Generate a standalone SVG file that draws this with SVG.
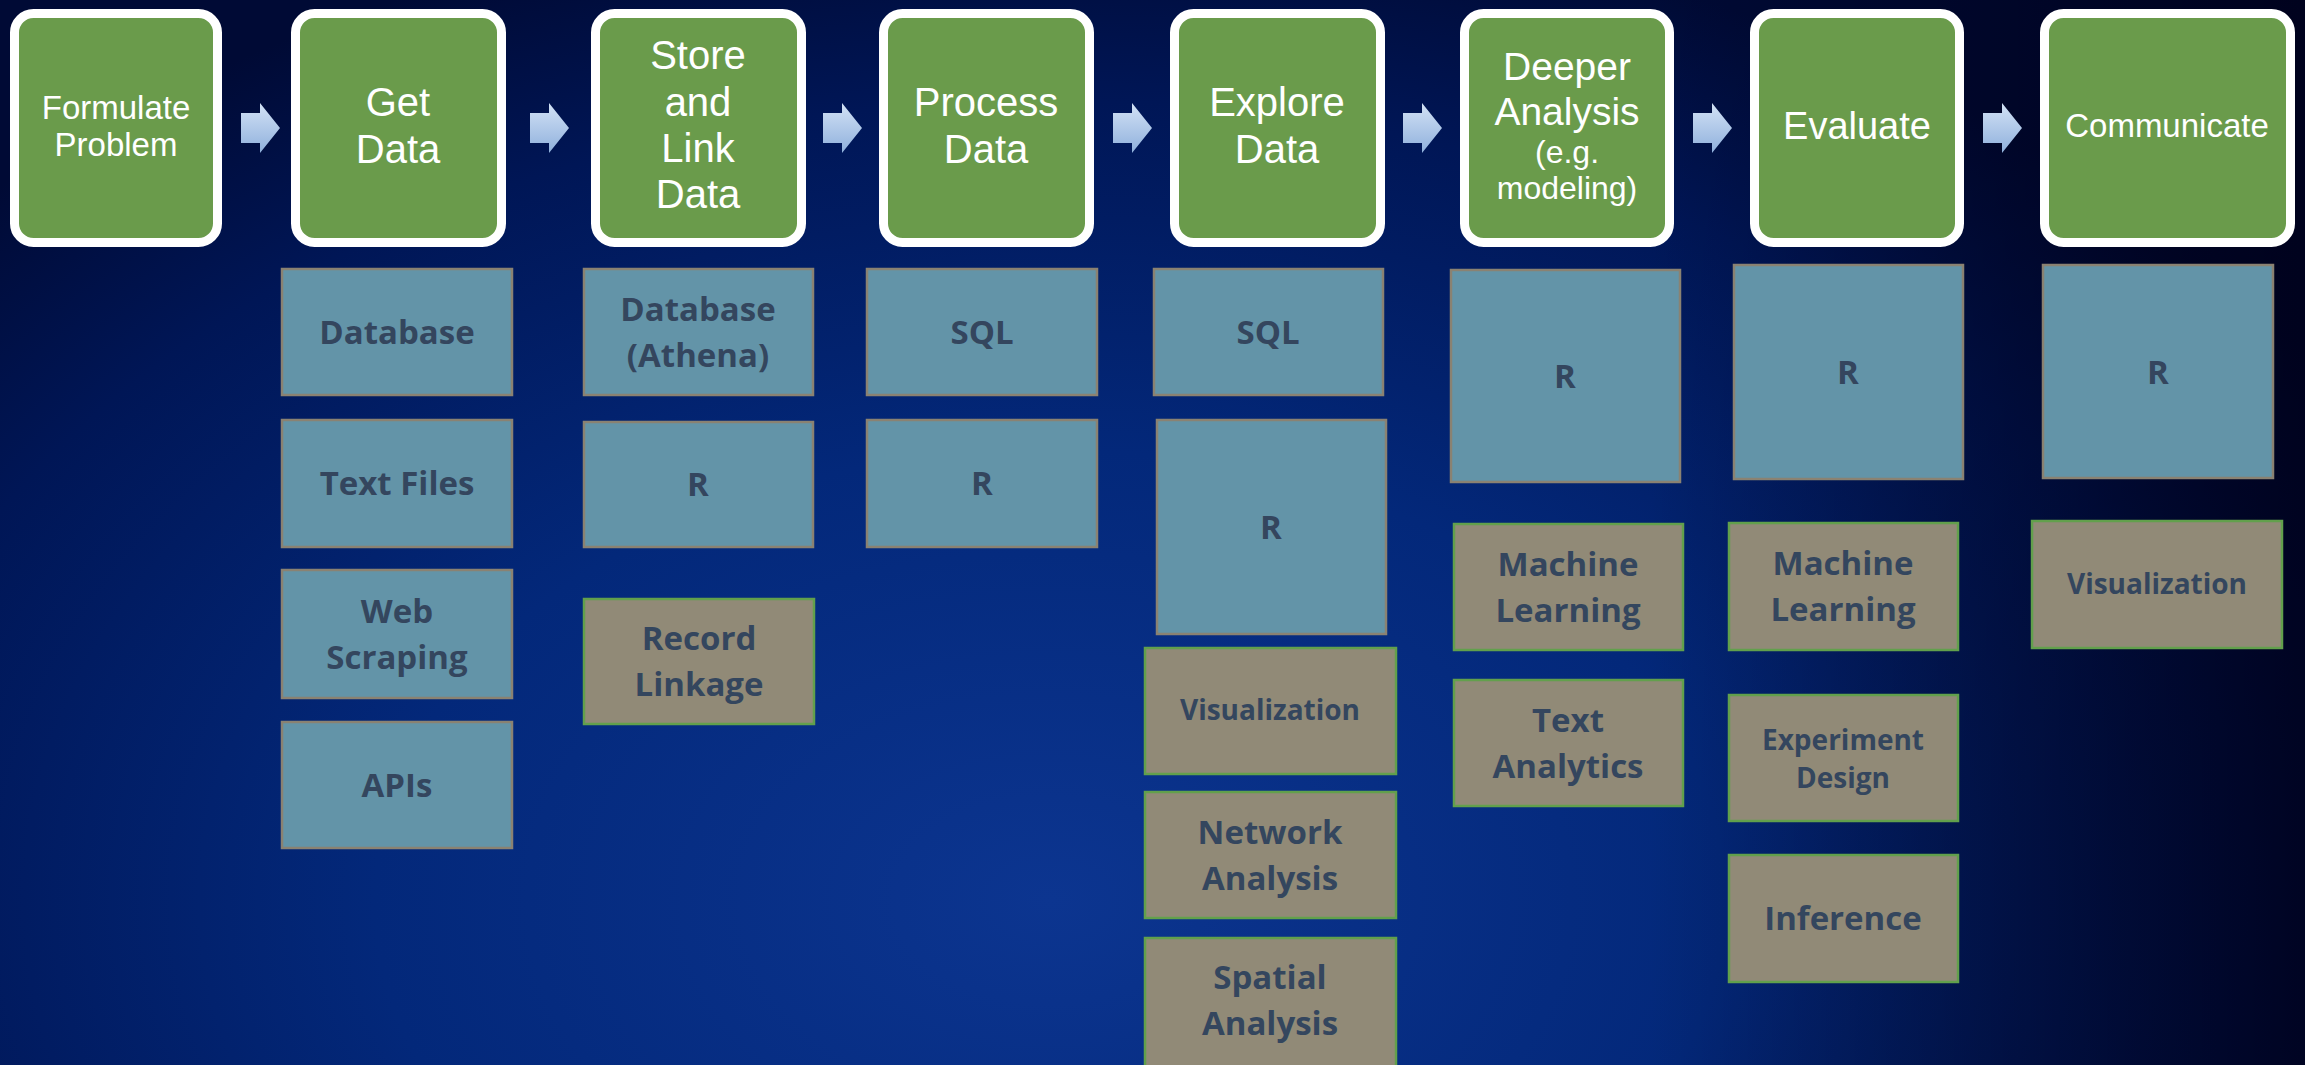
<svg xmlns="http://www.w3.org/2000/svg" width="2305" height="1065" viewBox="0 0 2305 1065">
  <defs>
    <radialGradient id="bg" cx="0" cy="0" r="1" gradientUnits="userSpaceOnUse" gradientTransform="translate(1050 900) scale(1500 1000)">
      <stop offset="0" stop-color="#0c3590"/>
      <stop offset="0.45" stop-color="#03287a"/>
      <stop offset="0.8" stop-color="#001656"/>
      <stop offset="1" stop-color="#000a35"/>
    </radialGradient>
    <linearGradient id="rightShade" x1="1650" y1="0" x2="2305" y2="0" gradientUnits="userSpaceOnUse">
      <stop offset="0" stop-color="#000018" stop-opacity="0"/>
      <stop offset="1" stop-color="#000018" stop-opacity="0.8"/>
    </linearGradient>
    <linearGradient id="arrowFill" x1="0" y1="0" x2="0" y2="1">
      <stop offset="0" stop-color="#d3e2f5"/>
      <stop offset="1" stop-color="#8fb0dc"/>
    </linearGradient>
    <style>
      .step rect { fill: #6a9b4b; stroke: #ffffff; stroke-width: 9; }
      .step text { fill: #ffffff; font-family: "Liberation Sans", Arial, sans-serif; text-anchor: middle; }
      .tool rect { fill: #6394a8; stroke: #8a8272; stroke-width: 2.5; }
      .method rect { fill: #918a77; stroke: #62a04c; stroke-width: 2.5; }
      .tool text, .method text { fill: #34465e; font-family: "Open Sans", "Noto Sans", sans-serif; font-weight: 700; font-size: 33px; text-anchor: middle; }
      .small { font-size: 28px !important; }
      .arrow { fill: url(#arrowFill); }
    </style>
  </defs>

  <rect width="2305" height="1065" fill="url(#bg)"/>
  <rect width="2305" height="1065" fill="url(#rightShade)"/>

  <!-- process steps -->
  <g id="step-formulate" class="step">
    <rect x="14.5" y="13.5" width="203" height="229" rx="19"/>
    <text font-size="33"><tspan x="116" y="119">Formulate</tspan><tspan x="116" y="156">Problem</tspan></text>
  </g>
  <g id="step-get" class="step">
    <rect x="295.5" y="13.5" width="206" height="229" rx="19"/>
    <text font-size="40"><tspan x="398" y="116">Get</tspan><tspan x="398" y="163">Data</tspan></text>
  </g>
  <g id="step-store" class="step">
    <rect x="595.5" y="13.5" width="206" height="229" rx="19"/>
    <text font-size="40"><tspan x="698" y="69">Store</tspan><tspan x="698" y="116">and</tspan><tspan x="698" y="162">Link</tspan><tspan x="698" y="208">Data</tspan></text>
  </g>
  <g id="step-process" class="step">
    <rect x="883.5" y="13.5" width="206" height="229" rx="19"/>
    <text font-size="40"><tspan x="986" y="116">Process</tspan><tspan x="986" y="163">Data</tspan></text>
  </g>
  <g id="step-explore" class="step">
    <rect x="1174.5" y="13.5" width="206" height="229" rx="19"/>
    <text font-size="40"><tspan x="1277" y="116">Explore</tspan><tspan x="1277" y="163">Data</tspan></text>
  </g>
  <g id="step-deeper" class="step">
    <rect x="1464.5" y="13.5" width="205" height="229" rx="19"/>
    <text font-size="39"><tspan x="1567" y="80">Deeper</tspan><tspan x="1567" y="125">Analysis</tspan><tspan x="1567" y="163" font-size="32">(e.g.</tspan><tspan x="1567" y="199" font-size="32">modeling)</tspan></text>
  </g>
  <g id="step-evaluate" class="step">
    <rect x="1754.5" y="13.5" width="205" height="229" rx="19"/>
    <text x="1857" y="139" font-size="38">Evaluate</text>
  </g>
  <g id="step-communicate" class="step">
    <rect x="2044.5" y="13.5" width="246" height="229" rx="19"/>
    <text x="2167" y="137" font-size="33">Communicate</text>
  </g>

  <!-- tools and methods under each step -->
  <g id="get-database" class="tool"><rect x="282" y="269" width="230" height="126"/><text x="397" y="344">Database</text></g>
  <g id="get-textfiles" class="tool"><rect x="282" y="420" width="230" height="127"/><text x="397" y="495">Text Files</text></g>
  <g id="get-webscraping" class="tool"><rect x="282" y="570" width="230" height="128"/><text><tspan x="397" y="623">Web</tspan><tspan x="397" y="669">Scraping</tspan></text></g>
  <g id="get-apis" class="tool"><rect x="282" y="722" width="230" height="126"/><text x="397" y="797">APIs</text></g>

  <g id="store-athena" class="tool"><rect x="584" y="269" width="229" height="126"/><text><tspan x="698" y="321">Database</tspan><tspan x="698" y="367">(Athena)</tspan></text></g>
  <g id="store-r" class="tool"><rect x="584" y="422" width="229" height="125"/><text x="698" y="496">R</text></g>
  <g id="store-linkage" class="method"><rect x="584" y="599" width="230" height="125"/><text><tspan x="699" y="650">Record</tspan><tspan x="699" y="696">Linkage</tspan></text></g>

  <g id="process-sql" class="tool"><rect x="867" y="269" width="230" height="126"/><text x="982" y="344">SQL</text></g>
  <g id="process-r" class="tool"><rect x="867" y="420" width="230" height="127"/><text x="982" y="495">R</text></g>

  <g id="explore-sql" class="tool"><rect x="1154" y="269" width="229" height="126"/><text x="1268" y="344">SQL</text></g>
  <g id="explore-r" class="tool"><rect x="1157" y="420" width="229" height="214"/><text x="1271" y="539">R</text></g>
  <g id="explore-vis" class="method"><rect x="1145" y="648" width="251" height="126"/><text class="small" x="1270" y="720">Visualization</text></g>
  <g id="explore-network" class="method"><rect x="1145" y="792" width="251" height="126"/><text><tspan x="1270" y="844">Network</tspan><tspan x="1270" y="890">Analysis</tspan></text></g>
  <g id="explore-spatial" class="method"><rect x="1145" y="938" width="251" height="130"/><text><tspan x="1270" y="989">Spatial</tspan><tspan x="1270" y="1035">Analysis</tspan></text></g>

  <g id="deeper-r" class="tool"><rect x="1451" y="270" width="229" height="212"/><text x="1565" y="388">R</text></g>
  <g id="deeper-ml" class="method"><rect x="1454" y="524" width="229" height="126"/><text><tspan x="1568" y="576">Machine</tspan><tspan x="1568" y="622">Learning</tspan></text></g>
  <g id="deeper-text" class="method"><rect x="1454" y="680" width="229" height="126"/><text><tspan x="1568" y="732">Text</tspan><tspan x="1568" y="778">Analytics</tspan></text></g>

  <g id="evaluate-r" class="tool"><rect x="1734" y="265" width="229" height="214"/><text x="1848" y="384">R</text></g>
  <g id="evaluate-ml" class="method"><rect x="1729" y="523" width="229" height="127"/><text><tspan x="1843" y="575">Machine</tspan><tspan x="1843" y="621">Learning</tspan></text></g>
  <g id="evaluate-design" class="method"><rect x="1729" y="695" width="229" height="126"/><text class="small"><tspan x="1843" y="750">Experiment</tspan><tspan x="1843" y="788">Design</tspan></text></g>
  <g id="evaluate-inference" class="method"><rect x="1729" y="855" width="229" height="127"/><text x="1843" y="930">Inference</text></g>

  <g id="communicate-r" class="tool"><rect x="2043" y="265" width="230" height="213"/><text x="2158" y="384">R</text></g>
  <g id="communicate-vis" class="method"><rect x="2032" y="521" width="250" height="127"/><text class="small" x="2157" y="594">Visualization</text></g>

  <!-- block arrows between steps -->
  <g id="connectors" class="arrow">
    <path d="M241 113 H260 V103 L280 128 L260 153 V143 H241 Z"/>
    <path d="M530 113 H549 V103 L569 128 L549 153 V143 H530 Z"/>
    <path d="M823 113 H842 V103 L862 128 L842 153 V143 H823 Z"/>
    <path d="M1113 113 H1132 V103 L1152 128 L1132 153 V143 H1113 Z"/>
    <path d="M1403 113 H1422 V103 L1442 128 L1422 153 V143 H1403 Z"/>
    <path d="M1693 113 H1712 V103 L1732 128 L1712 153 V143 H1693 Z"/>
    <path d="M1983 113 H2002 V103 L2022 128 L2002 153 V143 H1983 Z"/>
  </g>
</svg>
